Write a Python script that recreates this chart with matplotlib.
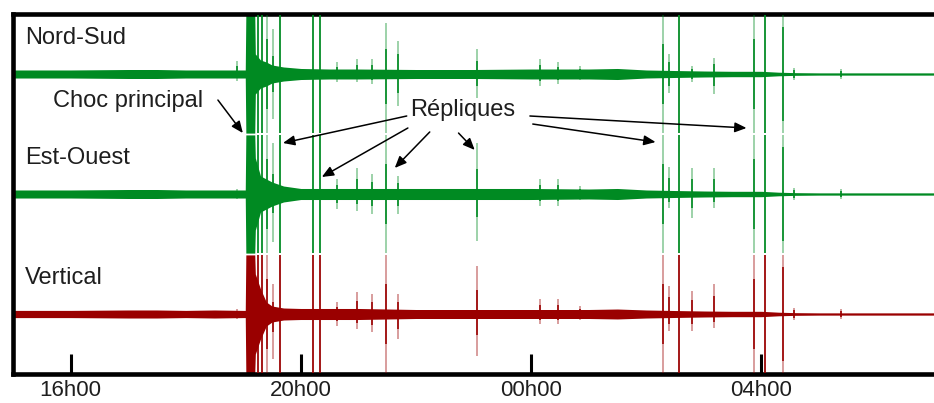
import numpy as np
import matplotlib
matplotlib.use("Agg")
import matplotlib.pyplot as plt

plt.rcParams['font.family'] = ['Liberation Sans', 'DejaVu Sans']

# ---------------- data (time in hours, 24 = 00h00 next day; amplitudes normalised, 1 = full scale) ----
traces = ["Nord-Sud", "Est-Ouest", "Vertical"]

# background noise envelope (half amplitude) sampled in time
env_t = [15.0, 16.0, 17.0, 17.5, 18.0, 18.5, 19.0, 19.035, 19.045, 19.20, 19.21, 19.30, 19.40,
         19.50, 19.70, 20.0, 20.5, 21.0, 22.0, 23.0, 24.0, 25.0, 25.5, 26.0, 26.5, 27.0, 27.5,
         28.0, 28.3, 28.6, 29.0, 30.0, 31.0]
ns_env = [0.067, 0.067, 0.075, 0.075, 0.067, 0.067, 0.067, 0.067, 1.5, 1.5, 0.333, 0.233, 0.2,
          0.15, 0.117, 0.092, 0.083, 0.083, 0.075, 0.075, 0.083, 0.083, 0.092, 0.067, 0.058, 0.05, 0.045,
          0.045, 0.03, 0.022, 0.018, 0.018, 0.018]
ew_env = [0.067, 0.067, 0.075, 0.075, 0.067, 0.067, 0.067, 0.067, 1.5, 1.5, 0.6, 0.3, 0.25,
          0.2, 0.133, 0.092, 0.092, 0.092, 0.092, 0.092, 0.092, 0.083, 0.092, 0.067, 0.058, 0.05, 0.045,
          0.045, 0.03, 0.022, 0.018, 0.018, 0.018]
v_env = [0.06, 0.06, 0.067, 0.067, 0.06, 0.067, 0.06, 0.06, 1.5, 1.5, 0.667, 0.417, 0.2,
         0.133, 0.1, 0.092, 0.092, 0.092, 0.075, 0.075, 0.075, 0.075, 0.083, 0.067, 0.058, 0.05, 0.045,
         0.045, 0.03, 0.022, 0.018, 0.018, 0.018]

# individual events (main-shock bursts and aftershocks)
ev_t = [18.889, 19.253, 19.323, 19.410, 19.514, 19.635, 20.208, 20.330, 20.625, 20.972, 21.233,
        21.476, 21.684, 23.056, 24.149, 24.462, 24.844, 26.285, 26.389, 26.563, 26.788, 27.170,
        27.865, 28.056, 28.385, 28.576, 29.392]
ev_core = [0.6, 1.0, 1.0, 0.6, 0.4, 1.0, 1.0, 1.0, 0.6, 0.6, 0.6,
           0.5, 0.6, 0.5, 0.6, 0.6, 0.6, 0.5, 0.6, 1.0, 0.6, 0.6,
           0.6, 1.0, 0.8, 0.6, 0.6]
ns_up = [0.22, 1.5, 1.5, 1.5, 0.75, 1.5, 1.5, 1.5, 0.2, 0.25, 0.25,
         0.85, 0.55, 0.42, 0.25, 0.2, 0.13, 1.5, 0.33, 1.5, 0.13, 0.27,
         1.5, 1.5, 1.5, 0.1, 0.08]
ns_dn = [0.12, 1.5, 1.5, 1.5, 0.75, 1.5, 1.5, 1.5, 0.13, 0.13, 0.17,
         1.5, 0.53, 0.4, 0.2, 0.17, 0.1, 1.5, 0.32, 1.5, 0.13, 0.33,
         1.5, 1.5, 1.5, 0.1, 0.08]
ew_up = [0.08, 1.5, 1.5, 1.5, 0.85, 1.5, 1.5, 1.5, 0.25, 0.43, 0.33,
         1.5, 0.3, 0.85, 0.25, 0.25, 0.13, 1.5, 0.45, 1.5, 0.43, 0.43,
         1.5, 1.5, 1.5, 0.1, 0.08]
ew_dn = [0.08, 1.5, 1.5, 1.5, 0.8, 1.5, 1.5, 1.5, 0.25, 0.28, 0.33,
         1.5, 0.33, 0.78, 0.2, 0.2, 0.1, 1.5, 0.23, 1.5, 0.4, 0.23,
         1.5, 1.5, 1.5, 0.1, 0.08]
v_up = [0.08, 1.5, 1.5, 1.5, 0.5, 1.5, 1.5, 1.5, 0.2, 0.37, 0.33,
        1.5, 0.33, 0.8, 0.25, 0.25, 0.13, 1.5, 0.47, 1.5, 0.38, 0.5,
        1.5, 1.5, 1.5, 0.1, 0.08]
v_dn = [0.08, 1.5, 1.5, 1.5, 0.75, 1.5, 1.5, 1.5, 0.2, 0.25, 0.3,
        1.5, 0.42, 0.7, 0.17, 0.17, 0.1, 1.5, 0.28, 1.5, 0.28, 0.23,
        1.5, 1.5, 1.5, 0.1, 0.08]

tick_hours = [16, 20, 24, 28]
tick_labels = ["16h00", "20h00", "00h00", "04h00"]

# ---------------- drawing ----------------
GREEN = '#008a22'
RED = '#9a0000'
TXT = '#1e1e1e'

fig = plt.figure(figsize=(9.34, 4.03), dpi=100)
ax = fig.add_axes([13 / 934, 1 - 374 / 403, 1 - 13 / 934, 360 / 403])
ax.set_xlim(15, 31)
ax.set_ylim(0, 3)

CLIP = 0.985
HALF = 0.5

specs = [
    (2.5, ns_env, ns_up, ns_dn, GREEN),
    (1.5, ew_env, ew_up, ew_dn, GREEN),
    (0.5, v_env, v_up, v_dn, RED),
]
et = np.array(env_t)
for base, env, up, dn, col in specs:
    e = np.minimum(np.array(env), CLIP) * HALF
    ax.fill_between(et, base - e, base + e, color=col, lw=0, zorder=2)
    ax.plot(et, np.full_like(et, base), color=col, lw=0.9, zorder=2)
    u = np.minimum(np.array(up), CLIP) * HALF
    d = np.minimum(np.array(dn), CLIP) * HALF
    core = np.array(ev_core)
    ax.vlines(ev_t, base - d, base + u, color=col, lw=1.2, alpha=0.45, zorder=3)
    ax.vlines(ev_t, base - d * core, base + u * core, color=col, lw=1.3, alpha=0.9, zorder=3)

# labels
for name, yb in zip(traces, [2.5, 1.5, 0.5]):
    ax.text(15.21, yb + 0.30, name, fontsize=17, color=TXT, ha='left', va='center')

arrow_kw = dict(arrowstyle='-|>,head_length=0.7,head_width=0.3', color='black', lw=1.1,
                shrinkA=0, shrinkB=0)
ax.text(16.997, 2.275, "Choc principal", fontsize=17, color=TXT, ha='center', va='center')
ax.annotate("", xy=(18.993, 2.008), xytext=(18.56, 2.283), arrowprops=arrow_kw, zorder=5)

ax.text(22.81, 2.2, "Répliques", fontsize=17, color=TXT, ha='center', va='center')
rep_arrows = [
    ((21.84, 2.15), (19.69, 1.925)),
    ((21.86, 2.05), (20.365, 1.642)),
    ((22.24, 2.017), (21.632, 1.717)),
    ((22.74, 2.008), (23.021, 1.867)),
    ((23.98, 2.15), (27.743, 2.05)),
    ((24.03, 2.083), (26.163, 1.933)),
]
for tail, head in rep_arrows:
    ax.annotate("", xy=head, xytext=tail, arrowprops=arrow_kw, zorder=5)

# frame
for s in ['left', 'top', 'bottom']:
    ax.spines[s].set_linewidth(3.3)
    ax.spines[s].set_color('black')
ax.spines['right'].set_visible(False)
ax.set_yticks([])
ax.set_xticks(tick_hours)
ax.set_xticklabels(tick_labels, fontsize=16, color=TXT)
ax.tick_params(axis='x', direction='in', length=14.5, width=2.2, pad=4, color='black')

fig.savefig("out.png", dpi=100)
